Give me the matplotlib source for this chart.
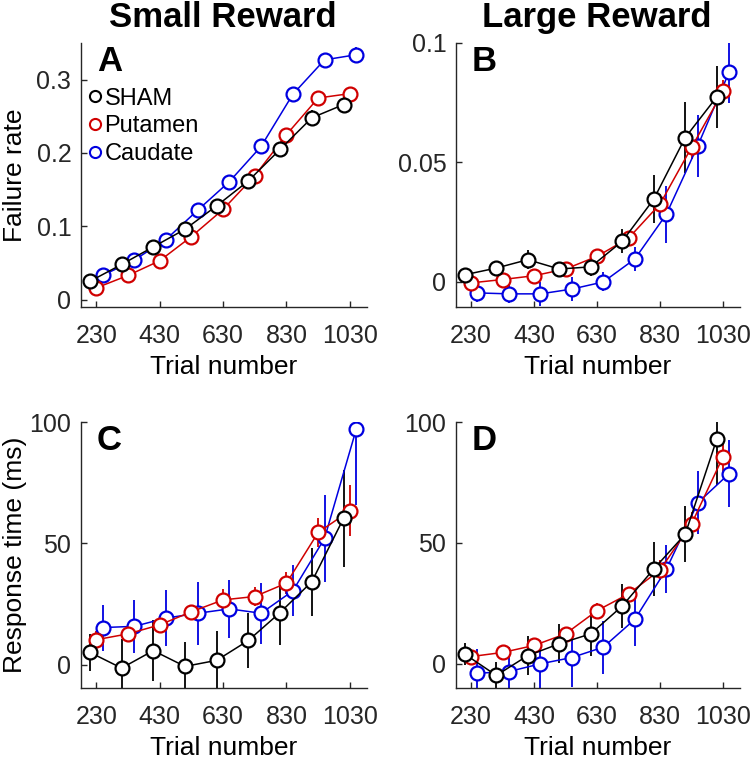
import matplotlib
matplotlib.use("Agg")
import matplotlib.pyplot as plt
from matplotlib.lines import Line2D
import numpy as np

plt.rcParams['font.family'] = ['Liberation Sans', 'DejaVu Sans']

# Trial bins (tick positions) and group offsets
trials = [230, 330, 430, 530, 630, 730, 830, 930, 1030]
groups = ["SHAM", "Putamen", "Caudate"]
colors = {"SHAM": "black", "Putamen": "#d00000", "Caudate": "#0000e0"}
offsets = {"SHAM": -20, "Putamen": 0, "Caudate": 20}

# A: failure rate, small reward
fail_small = {
    "SHAM":    [0.025, 0.048, 0.072, 0.096, 0.128, 0.162, 0.205, 0.248, 0.266],
    "Putamen": [0.016, 0.033, 0.053, 0.086, 0.123, 0.169, 0.225, 0.275, 0.281],
    "Caudate": [0.033, 0.054, 0.082, 0.122, 0.161, 0.209, 0.280, 0.327, 0.334],
}
fail_small_err = {
    "SHAM":    [0.004, 0.005, 0.006, 0.008, 0.008, 0.009, 0.010, 0.011, 0.010],
    "Putamen": [0.003, 0.004, 0.004, 0.005, 0.006, 0.007, 0.008, 0.009, 0.009],
    "Caudate": [0.004, 0.004, 0.005, 0.006, 0.007, 0.008, 0.009, 0.010, 0.010],
}

# B: failure rate, large reward
fail_large = {
    "SHAM":    [0.003, 0.0058, 0.0093, 0.0054, 0.0063, 0.017, 0.0346, 0.0604, 0.0774],
    "Putamen": [-0.0004, 0.001, 0.0026, 0.0054, 0.0107, 0.0183, 0.0326, 0.0563, 0.0797],
    "Caudate": [-0.0046, -0.005, -0.005, -0.003, 0.0, 0.0096, 0.0283, 0.057, 0.088],
}
fail_large_err = {
    "SHAM":    [0.003, 0.003, 0.004, 0.003, 0.004, 0.005, 0.010, 0.015, 0.013],
    "Putamen": [0.002, 0.002, 0.002, 0.002, 0.002, 0.003, 0.004, 0.005, 0.005],
    "Caudate": [0.004, 0.004, 0.005, 0.005, 0.004, 0.005, 0.012, 0.013, 0.013],
}

# C: response time, small reward
rt_small = {
    "SHAM":    [5.1, -1.4, 5.8, -0.7, 1.8, 10.0, 21.5, 34.2, 60.3],
    "Putamen": [10.3, 12.7, 16.4, 21.8, 26.7, 28.1, 33.6, 54.5, 63.4],
    "Caudate": [15.3, 15.8, 19.2, 21.2, 23.0, 21.2, 30.4, 52.0, 97.0],
}
rt_small_err = {
    "SHAM":    [7.5, 12.0, 12.5, 10.0, 12.0, 11.5, 13.5, 14.0, 20.0],
    "Putamen": [3.5, 3.0, 3.5, 3.0, 4.5, 4.0, 4.5, 6.0, 10.5],
    "Caudate": [9.5, 11.0, 11.5, 13.0, 12.0, 12.5, 10.5, 18.0, 31.0],
}

# D: response time, large reward
rt_large = {
    "SHAM":    [4.0, -4.8, 3.4, 8.3, 12.4, 23.9, 39.2, 53.6, 92.8],
    "Putamen": [3.0, 4.7, 7.6, 12.4, 22.0, 28.9, 38.8, 57.8, 85.6],
    "Caudate": [-3.9, -3.2, 0.0, 2.6, 6.9, 18.4, 39.1, 66.6, 78.7],
}
rt_large_err = {
    "SHAM":    [4.5, 5.5, 8.0, 8.0, 9.0, 9.0, 11.0, 11.5, 19.0],
    "Putamen": [2.0, 2.0, 2.5, 2.5, 3.0, 3.0, 4.0, 5.0, 7.0],
    "Caudate": [10.0, 10.0, 10.0, 12.0, 11.0, 11.0, 10.0, 13.0, 14.0],
}

W, H = 750, 760
fig = plt.figure(figsize=(7.5, 7.6), dpi=100)

def px_axes(left, top, right, bottom):
    return fig.add_axes([left / W, 1 - bottom / H, (right - left) / W, (bottom - top) / H])

axA = px_axes(81, 43, 367, 307)
axB = px_axes(456, 43, 740, 307)
axC = px_axes(81, 422, 367, 688)
axD = px_axes(456, 422, 740, 688)

panels = [
    (axA, fail_small, fail_small_err, (-0.01, 0.35), [0, 0.1, 0.2, 0.3], ["0", "0.1", "0.2", "0.3"], "A"),
    (axB, fail_large, fail_large_err, (-0.0105, 0.1), [0, 0.05, 0.1], ["0", "0.05", "0.1"], "B"),
    (axC, rt_small, rt_small_err, (-9.6, 100), [0, 50, 100], ["0", "50", "100"], "C"),
    (axD, rt_large, rt_large_err, (-10, 100), [0, 50, 100], ["0", "50", "100"], "D"),
]

grey = "#262626"
for ax, vals, errs, ylim, yt, ytl, letter in panels:
    for g in ["Caudate", "Putamen", "SHAM"]:
        x = np.array(trials) + offsets[g]
        ax.errorbar(x, vals[g], yerr=errs[g], color=colors[g], marker="o",
                    markersize=10, markerfacecolor="white", markeredgewidth=1.6,
                    linewidth=1.1, elinewidth=1.3, capsize=0)
    ax.set_xlim(182, 1084)
    ax.set_ylim(*ylim)
    ax.set_xticks([230, 430, 630, 830, 1030])
    ax.set_yticks(yt)
    ax.set_yticklabels(ytl)
    ax.tick_params(direction="in", length=4, labelsize=18, colors=grey, width=1)
    ax.tick_params(axis="x", pad=12)
    ax.tick_params(axis="y", pad=7)
    for s in ["top", "right"]:
        ax.spines[s].set_visible(False)
    for s in ["left", "bottom"]:
        ax.spines[s].set_color(grey)
        ax.spines[s].set_linewidth(1)
    ax.set_xlabel("Trial number", fontsize=19, labelpad=5)
    ax.text(0.055, 0.895, letter, transform=ax.transAxes, fontsize=25,
            fontweight="bold", va="baseline", ha="left")

axA.set_ylabel("Failure rate", fontsize=19)
axA.yaxis.set_label_coords(-0.19, 0.5)
axC.set_ylabel("Response time (ms)", fontsize=19)
axC.yaxis.set_label_coords(-0.19, 0.5)

handles = [Line2D([], [], linestyle="none", marker="o", markersize=8,
                  markerfacecolor="white", markeredgecolor=colors[g],
                  markeredgewidth=1.5) for g in groups]
axA.legend(handles, groups, loc="upper left", bbox_to_anchor=(-0.025, 0.885),
           frameon=False, fontsize=17, handlelength=0.6, handletextpad=0.1,
           labelspacing=0.25, borderaxespad=0.2)

fig.text(223 / W, 1 - 27 / H, "Small Reward", fontsize=25, fontweight="bold",
         ha="center", va="baseline")
fig.text(597 / W, 1 - 27 / H, "Large Reward", fontsize=25, fontweight="bold",
         ha="center", va="baseline")

fig.savefig("out.png", dpi=100)
